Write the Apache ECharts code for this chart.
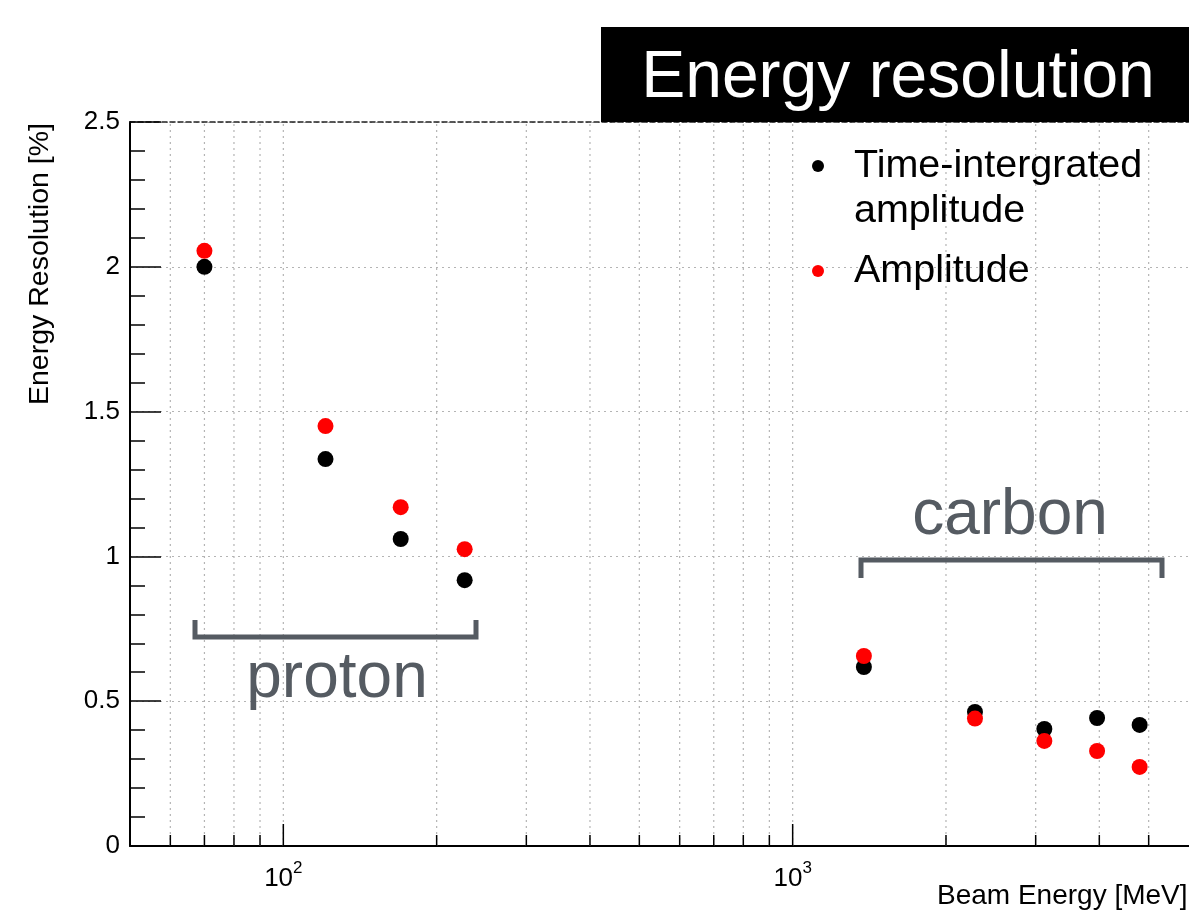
<!DOCTYPE html>
<html>
<head>
<meta charset="utf-8">
<script src="https://cdn.jsdelivr.net/npm/echarts@6/dist/echarts.min.js"></script>
<style>
html, body { margin: 0; padding: 0; background: #fff; }
#chart { width: 1189px; height: 913px; }
</style>
</head>
<body>
<div id="chart"></div>
<script>
// beam energies [MeV] (proton x4, carbon x5)
var beamEnergy = [70, 121, 170, 227, 1380, 2280, 3120, 3960, 4800];
// energy resolution [%]
var timeIntegrated = [2.00, 1.336, 1.06, 0.918, 0.618, 0.463, 0.404, 0.442, 0.418];
var amplitude = [2.055, 1.45, 1.17, 1.025, 0.656, 0.44, 0.363, 0.328, 0.273];

var xMinorTicks = [60, 70, 80, 90, 200, 300, 400, 500, 600, 700, 800, 900, 2000, 3000, 4000, 5000];
var xMajorTicks = [100, 1000];
var xRange = [50, 6000];
var yRange = [0, 2.5];

var FONT = "'Liberation Sans', Arial, Helvetica, sans-serif";
var GREY = '#555b62';

var myChart = echarts.init(document.getElementById('chart'));

function pairs(xs, ys) {
    return xs.map(function (x, i) { return [x, ys[i]]; });
}

// ROOT-like ticks and dotted grid drawn on the log axis
function tickRenderer(len) {
    return function (params, api) {
        var x = api.value(0);
        var p0 = api.coord([x, yRange[0]]);
        var p1 = api.coord([x, yRange[1]]);
        return {
            type: 'group',
            children: [{
                type: 'line',
                shape: { x1: p0[0], y1: p0[1], x2: p1[0], y2: p1[1] },
                style: { stroke: '#b4b4b4', lineWidth: 1.2, lineDash: [2, 4] },
                z2: 0
            }, {
                type: 'line',
                shape: { x1: p0[0], y1: p0[1], x2: p0[0], y2: p0[1] - len },
                style: { stroke: '#000', lineWidth: 1.5 },
                z2: 5
            }]
        };
    };
}

var option = {
    animation: false,
    textStyle: { fontFamily: FONT },
    grid: { left: 130, top: 122, width: 1065, bottom: 67 },
    xAxis: [{
        type: 'log',
        logBase: 10,
        min: xRange[0],
        max: xRange[1],
        axisLine: { lineStyle: { color: '#000', width: 2 } },
        axisTick: { show: false },
        splitLine: { show: false },
        axisLabel: {
            margin: 14,
            showMinLabel: false,
            showMaxLabel: false,
            formatter: function (v) {
                var r = Math.round(v);
                if (r === 100) return '{b|10}{s|2}';
                if (r === 1000) return '{b|10}{s|3}';
                return '';
            },
            rich: {
                b: { fontSize: 26, color: '#000', fontFamily: FONT, lineHeight: 32, verticalAlign: 'bottom' },
                s: { fontSize: 17, color: '#000', fontFamily: FONT, lineHeight: 32, verticalAlign: 'top' }
            }
        }
    }, {
        type: 'log',
        logBase: 10,
        position: 'top',
        min: xRange[0],
        max: xRange[1],
        axisLine: { lineStyle: { color: '#222', width: 1.5, type: [5, 3] } },
        axisTick: { show: false },
        axisLabel: { show: false },
        splitLine: { show: false }
    }],
    yAxis: {
        type: 'value',
        min: yRange[0],
        max: yRange[1],
        interval: 0.5,
        axisLine: { show: true, lineStyle: { color: '#000', width: 2 } },
        axisTick: { show: true, inside: true, length: 31, lineStyle: { color: '#000', width: 1.5 } },
        minorTick: { show: true, splitNumber: 5, length: 15, lineStyle: { color: '#000', width: 1.5 } },
        splitLine: { show: true, lineStyle: { color: '#b4b4b4', width: 1.2, type: [2, 4] } },
        axisLabel: { fontSize: 26, color: '#000', margin: 10 }
    },
    series: [{
        type: 'custom',
        silent: true,
        renderItem: tickRenderer(11),
        data: xMinorTicks.map(function (v) { return [v, 0]; }),
        z: 1
    }, {
        type: 'custom',
        silent: true,
        renderItem: tickRenderer(22),
        data: xMajorTicks.map(function (v) { return [v, 0]; }),
        z: 1
    }, {
        name: 'Time-intergrated amplitude',
        type: 'scatter',
        symbol: 'circle',
        symbolSize: 16,
        itemStyle: { color: '#000', opacity: 1 },
        data: pairs(beamEnergy, timeIntegrated),
        z: 3
    }, {
        name: 'Amplitude',
        type: 'scatter',
        symbol: 'circle',
        symbolSize: 16,
        itemStyle: { color: '#ff0000', opacity: 1 },
        data: pairs(beamEnergy, amplitude),
        z: 4
    }],
    graphic: [
        // title box
        { type: 'rect', shape: { x: 601, y: 27, width: 600, height: 95 }, style: { fill: '#000' }, z: 10 },
        { type: 'text', x: 898, y: 79, z: 11,
          style: { text: 'Energy resolution', fill: '#fff', font: '500 66px ' + FONT, align: 'center', verticalAlign: 'middle' } },
        // legend
        { type: 'circle', shape: { cx: 818, cy: 166, r: 6 }, style: { fill: '#000' }, z: 10 },
        { type: 'text', x: 854, y: 166, z: 10,
          style: { text: 'Time-intergrated', fill: '#000', font: '39.5px ' + FONT, verticalAlign: 'middle' } },
        { type: 'text', x: 854, y: 211, z: 10,
          style: { text: 'amplitude', fill: '#000', font: '39.5px ' + FONT, verticalAlign: 'middle' } },
        { type: 'circle', shape: { cx: 818, cy: 271, r: 6 }, style: { fill: '#ff0000' }, z: 10 },
        { type: 'text', x: 854, y: 271, z: 10,
          style: { text: 'Amplitude', fill: '#000', font: '39.5px ' + FONT, verticalAlign: 'middle' } },
        // proton bracket
        { type: 'polyline', z: 10,
          shape: { points: [[195, 620], [195, 637], [476, 637], [476, 620]] },
          style: { stroke: GREY, lineWidth: 5, fill: null } },
        { type: 'text', x: 337, y: 679, z: 10,
          style: { text: 'proton', fill: GREY, font: '64px ' + FONT, align: 'center', verticalAlign: 'middle' } },
        // carbon bracket
        { type: 'polyline', z: 10,
          shape: { points: [[861, 578], [861, 560], [1162, 560], [1162, 578]] },
          style: { stroke: GREY, lineWidth: 5, fill: null } },
        { type: 'text', x: 1010, y: 516, z: 10,
          style: { text: 'carbon', fill: GREY, font: '64px ' + FONT, align: 'center', verticalAlign: 'middle' } },
        // axis titles
        { type: 'text', x: 40, y: 405, rotation: Math.PI / 2, z: 10,
          style: { text: 'Energy Resolution [%]', fill: '#000', font: '28.5px ' + FONT, align: 'left', verticalAlign: 'middle' } },
        { type: 'text', x: 937, y: 896, z: 10,
          style: { text: 'Beam Energy [MeV]', fill: '#000', font: '28px ' + FONT, align: 'left', verticalAlign: 'middle' } }
    ]
};

myChart.setOption(option);

window.onresize = function () {
    myChart.resize();
};
</script>
</body>
</html>
